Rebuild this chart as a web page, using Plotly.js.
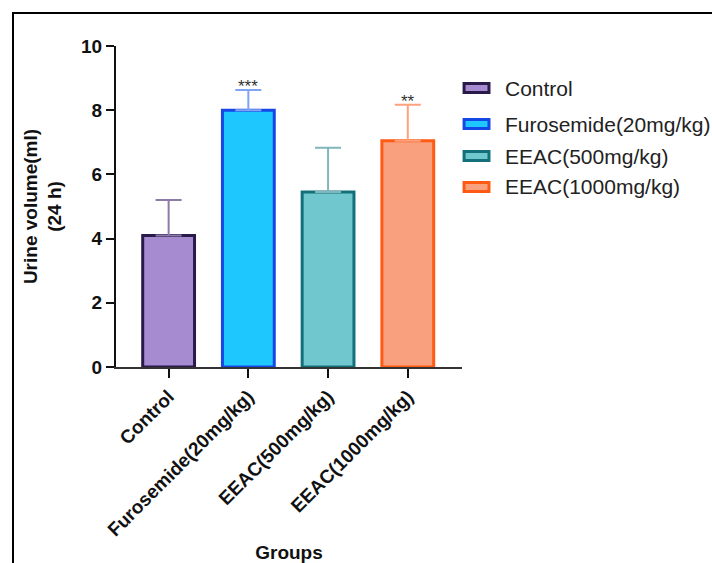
<!DOCTYPE html>
<html>
<head>
<meta charset="utf-8">
<script src="https://cdn.plot.ly/plotly-3.0.1.min.js"></script>
<style>
html,body{margin:0;padding:0;background:#fff;}
#wrap{position:relative;width:712px;height:563px;}
#chart{width:712px;height:563px;}
#frame{position:absolute;left:12px;top:12px;width:700px;height:551px;border-left:2px solid #000;border-top:2px solid #000;pointer-events:none;}
</style>
</head>
<body>
<div id="wrap"><div id="chart"></div><div id="frame"></div></div>
<script>
const groups = ["Control", "Furosemide(20mg/kg)", "EEAC(500mg/kg)", "EEAC(1000mg/kg)"];
const means = [4.1, 8.0, 5.45, 7.05];
const errUp = [1.1, 0.63, 1.38, 1.12];
const signif = ["", "***", "", "**"];
const fillColors = ["#A68BD1", "#1EC8FF", "#70C7CE", "#F9A07E"];
const lineColors = ["#2A1A4A", "#1447E6", "#13707A", "#FF5A14"];
const errColors = ["#8C7BA8", "#7FA3F5", "#7FB7BC", "#FFA07E"];

const FONT = "Liberation Sans, Arial, sans-serif";

const traces = groups.map((g, i) => ({
  type: "bar",
  name: g,
  x: [g],
  y: [means[i]],
  width: 0.65,
  showlegend: false,
  marker: {color: fillColors[i], line: {color: lineColors[i], width: 3}},
  error_y: {type: "data", symmetric: false, array: [errUp[i]], arrayminus: [0], color: errColors[i], thickness: 2, width: 13}
}));

const annotations = groups.map((g, i) => ({
  x: g, y: means[i] + errUp[i], text: signif[i], showarrow: false,
  yanchor: "bottom", yshift: -8, font: {family: FONT, size: 17, color: "#333"}
})).filter(a => a.text);

// custom legend (wide rectangular swatches like the reference)
const legY = [0.869, 0.757, 0.657, 0.561];
const shapes = [];
groups.forEach((g, i) => {
  shapes.push({type: "rect", xref: "paper", yref: "paper",
    x0: 1.006, x1: 1.078, y0: legY[i] - 0.014, y1: legY[i] + 0.014,
    fillcolor: fillColors[i], line: {color: lineColors[i], width: 3}});
  annotations.push({xref: "paper", yref: "paper", x: 1.118, y: legY[i], xanchor: "left", yanchor: "middle",
    text: g, showarrow: false, font: {family: FONT, size: 21, color: "#222"}});
});

const layout = {
  width: 712, height: 563,
  margin: {l: 116, r: 250, t: 46, b: 196},
  paper_bgcolor: "#fff", plot_bgcolor: "#fff",
  barmode: "overlay",
  showlegend: false,
  xaxis: {
    type: "category", range: [-0.66, 3.68],
    showline: true, linecolor: "#333", linewidth: 2,
    ticks: "outside", ticklen: 9, tickwidth: 2, tickcolor: "#111",
    tickangle: -45, showgrid: false, zeroline: false,
    tickfont: {family: FONT, size: 19, color: "#111", weight: "bold"},
    title: {text: "<b>Groups</b>", font: {family: FONT, size: 19, color: "#111"}, standoff: 12}
  },
  yaxis: {
    range: [0, 10], tickvals: [0, 2, 4, 6, 8, 10], ticktext: ["0","2","4","6","8","10"],
    showline: true, linecolor: "#111", linewidth: 2,
    ticks: "outside", ticklen: 8, tickwidth: 2, tickcolor: "#111",
    showgrid: false, zeroline: false,
    tickfont: {family: FONT, size: 19, color: "#111", weight: "bold"},
    title: {text: "<b>Urine volume(ml)<br>(24 h)</b>", font: {family: FONT, size: 19, color: "#111"}, standoff: 14}
  },
  shapes: shapes,
  annotations: annotations
};

Plotly.newPlot("chart", traces, layout, {displayModeBar: false, staticPlot: true});
</script>
</body>
</html>
